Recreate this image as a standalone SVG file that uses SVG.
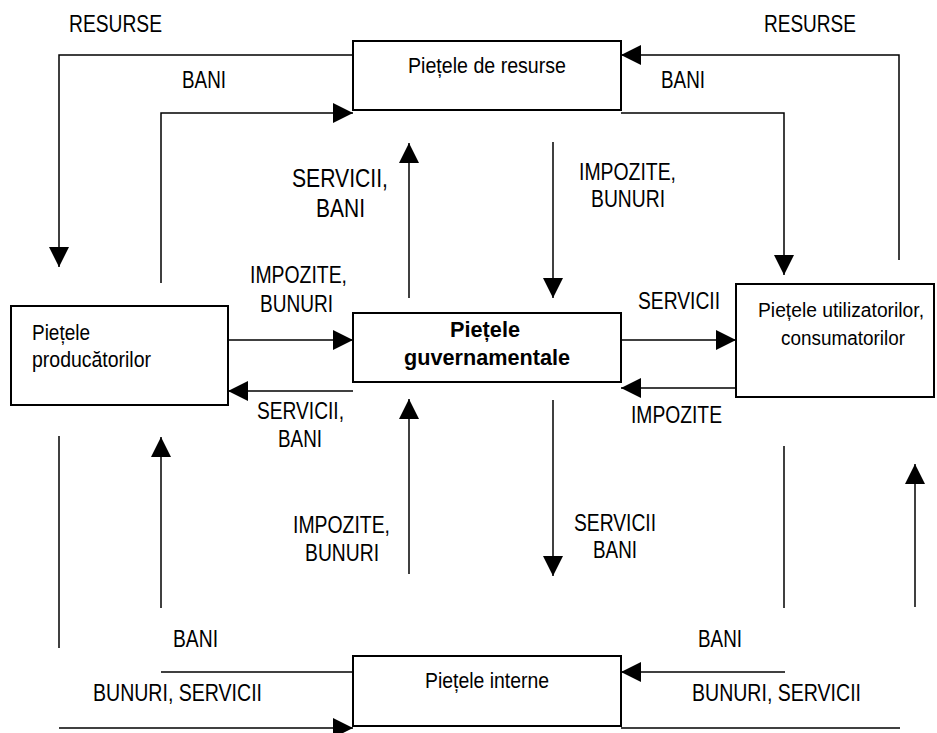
<svg xmlns="http://www.w3.org/2000/svg" width="937" height="733" viewBox="0 0 937 733">
<style>
  .box { fill: #fff; stroke: #000; stroke-width: 2; }
  .ln { fill: none; stroke: #000; stroke-width: 1.5; }
  .arr { marker-end: url(#ah); }
  text { font-family: "Liberation Sans Narrow", "Arial Narrow", "Liberation Sans", Arial, sans-serif; fill: #000; }
  .lb { font-size: 23px; }
  .lbb { font-size: 25px; }
  .nt { font-size: 22px; }
  .nts { font-size: 20px; }
  .bold { font-weight: bold; }
</style>
<defs>
  <marker id="ah" viewBox="0 0 20 20" refX="20" refY="10" markerWidth="20" markerHeight="20" markerUnits="userSpaceOnUse" orient="auto">
    <path d="M0,0 L20,10 L0,20 Z" fill="#000"/>
  </marker>
</defs>
<rect width="937" height="733" fill="#fff"/>

<g id="connectors">
  <path class="ln arr" d="M353,55 H59 V267"/>
  <path class="ln arr" d="M161,283 V113 H353"/>
  <path class="ln arr" d="M899,260 V55 H621"/>
  <path class="ln arr" d="M621,113 H784 V275"/>
  <path class="ln arr" d="M409,298 V143"/>
  <path class="ln arr" d="M553,142 V298"/>
  <path class="ln arr" d="M228,340 H353"/>
  <path class="ln arr" d="M353,391 H228"/>
  <path class="ln arr" d="M621,340 H736"/>
  <path class="ln arr" d="M736,388 H621"/>
  <path class="ln" d="M59,436 V648"/>
  <path class="ln arr" d="M161,608 V437"/>
  <path class="ln arr" d="M409,574 V399"/>
  <path class="ln arr" d="M553,400 V576"/>
  <path class="ln" d="M784,446 V608"/>
  <path class="ln arr" d="M915,607 V464"/>
  <path class="ln" d="M161,672 H353"/>
  <path class="ln arr" d="M59,728 H353"/>
  <path class="ln arr" d="M785,672 H621"/>
  <path class="ln" d="M621,728 H900"/>
</g>

<g id="labels">
  <text class="lb" x="69" y="32" textLength="93" lengthAdjust="spacingAndGlyphs">RESURSE</text>
  <text class="lb" x="182" y="88" textLength="44" lengthAdjust="spacingAndGlyphs">BANI</text>
  <text class="lb" x="764" y="32" textLength="92" lengthAdjust="spacingAndGlyphs">RESURSE</text>
  <text class="lb" x="661" y="88" textLength="44" lengthAdjust="spacingAndGlyphs">BANI</text>
  <text class="lbb" x="292" y="187" textLength="96" lengthAdjust="spacingAndGlyphs">SERVICII,</text>
  <text class="lbb" x="316" y="217" textLength="49" lengthAdjust="spacingAndGlyphs">BANI</text>
  <text class="lb" x="579" y="180" textLength="97" lengthAdjust="spacingAndGlyphs">IMPOZITE,</text>
  <text class="lb" x="591" y="207" textLength="74" lengthAdjust="spacingAndGlyphs">BUNURI</text>
  <text class="lb" x="250" y="283" textLength="97" lengthAdjust="spacingAndGlyphs">IMPOZITE,</text>
  <text class="lb" x="260" y="312" textLength="73" lengthAdjust="spacingAndGlyphs">BUNURI</text>
  <text class="lb" x="638" y="309" textLength="82" lengthAdjust="spacingAndGlyphs">SERVICII</text>
  <text class="lb" x="257" y="419" textLength="87" lengthAdjust="spacingAndGlyphs">SERVICII,</text>
  <text class="lb" x="278" y="447" textLength="44" lengthAdjust="spacingAndGlyphs">BANI</text>
  <text class="lb" x="631" y="423" textLength="91" lengthAdjust="spacingAndGlyphs">IMPOZITE</text>
  <text class="lb" x="293" y="533" textLength="97" lengthAdjust="spacingAndGlyphs">IMPOZITE,</text>
  <text class="lb" x="305" y="561" textLength="74" lengthAdjust="spacingAndGlyphs">BUNURI</text>
  <text class="lb" x="574" y="531" textLength="82" lengthAdjust="spacingAndGlyphs">SERVICII</text>
  <text class="lb" x="593" y="558" textLength="44" lengthAdjust="spacingAndGlyphs">BANI</text>
  <text class="lb" x="173" y="647" textLength="45" lengthAdjust="spacingAndGlyphs">BANI</text>
  <text class="lb" x="698" y="647" textLength="44" lengthAdjust="spacingAndGlyphs">BANI</text>
  <text class="lb" x="93" y="701" textLength="169" lengthAdjust="spacingAndGlyphs">BUNURI, SERVICII</text>
  <text class="lb" x="692" y="701" textLength="169" lengthAdjust="spacingAndGlyphs">BUNURI, SERVICII</text>
</g>

<g id="piete-resurse">
  <rect class="box" x="353" y="41" width="268" height="69"/>
  <text class="nt" x="408" y="73" textLength="158" lengthAdjust="spacingAndGlyphs">Piețele de resurse</text>
</g>
<g id="piete-producatori">
  <rect class="box" x="11" y="306" width="217" height="99"/>
  <text class="nt" x="32" y="340" textLength="58" lengthAdjust="spacingAndGlyphs">Piețele</text>
  <text class="nt" x="32" y="367" textLength="119" lengthAdjust="spacingAndGlyphs">producătorilor</text>
</g>
<g id="piete-guvernamentale">
  <rect class="box" x="353" y="313" width="268" height="69"/>
  <text class="nt bold" x="450" y="337" textLength="70" lengthAdjust="spacingAndGlyphs">Piețele</text>
  <text class="nt bold" x="404" y="365" textLength="166" lengthAdjust="spacingAndGlyphs">guvernamentale</text>
</g>
<g id="piete-utilizatori">
  <rect class="box" x="736" y="284" width="198" height="113"/>
  <text class="nts" x="758" y="317" textLength="166" lengthAdjust="spacingAndGlyphs">Piețele utilizatorilor,</text>
  <text class="nts" x="781" y="345" textLength="124" lengthAdjust="spacingAndGlyphs">consumatorilor</text>
</g>
<g id="piete-interne">
  <rect class="box" x="353" y="656" width="268" height="70"/>
  <text class="nt" x="425" y="688" textLength="124" lengthAdjust="spacingAndGlyphs">Piețele interne</text>
</g>
</svg>
